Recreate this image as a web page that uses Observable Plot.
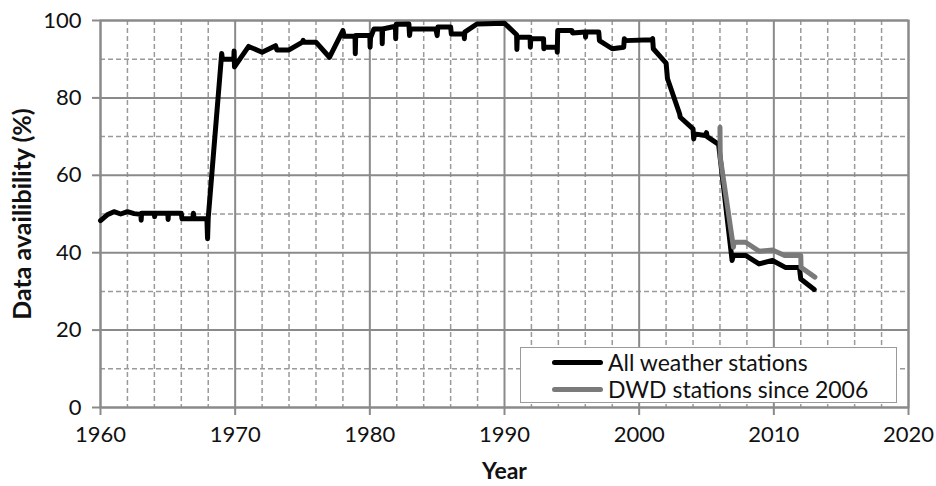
<!DOCTYPE html>
<html>
<head>
<meta charset="utf-8">
<script src="https://cdn.jsdelivr.net/npm/d3@7"></script>
<script src="https://cdn.jsdelivr.net/npm/@observablehq/plot@0.6"></script>
<style>
  html, body { margin: 0; padding: 0; background: #fff; }
  #wrap { position: relative; width: 936px; height: 486px; font-family: Lato, "Open Sans", sans-serif; }
  #legend { position: absolute; left: 520px; top: 347px; width: 375px; height: 54px; border: 1.5px solid #9a9a9a; background: #fff; }
  .row { position: absolute; left: 0; height: 27px; width: 100%; }
  .swatch { position: absolute; left: 31px; width: 51px; height: 5px; border-radius: 2.5px; }
  .lab { position: absolute; left: 87px; font-size: 23px; color: #111; white-space: nowrap; line-height: 1; }
</style>
</head>
<body>
<div id="wrap"></div>
<script>
// Series: All weather stations
const allYears = [
  1960.0, 1960.5, 1961.0, 1961.5, 1962.0, 1962.5, 1963.0, 1963.02, 1963.05, 1964.0,
  1964.02, 1964.05, 1965.0, 1965.02, 1965.05, 1966.0, 1966.05, 1966.85, 1966.9, 1966.95,
  1967.9, 1967.95, 1968.0, 1969.0, 1969.05, 1969.9, 1969.92, 1969.95, 1971.0, 1972.0,
  1973.0, 1973.1, 1974.0, 1975.0, 1975.05, 1975.1, 1976.0, 1977.0, 1978.0, 1978.1,
  1978.9, 1978.92, 1978.95, 1980.0, 1980.02, 1980.05, 1980.3, 1980.9, 1980.92, 1980.95,
  1981.9, 1981.92, 1981.95, 1982.9, 1982.95, 1983.0, 1984.9, 1985.0, 1985.05, 1986.0,
  1986.05, 1987.0, 1987.02, 1987.05, 1987.95, 1990.0, 1990.9, 1990.92, 1990.95, 1991.9,
  1991.92, 1991.95, 1992.9, 1992.92, 1992.95, 1993.9, 1993.92, 1993.95, 1995.0, 1995.05,
  1996.0, 1996.02, 1996.05, 1997.0, 1997.05, 1998.0, 1998.85, 1998.9, 1998.95, 2000.9,
  2001.0, 2001.05, 2002.0, 2002.1, 2003.0, 2003.05, 2004.0, 2004.05, 2004.1, 2004.9,
  2005.0, 2005.05, 2005.9, 2006.9, 2007.0, 2007.9, 2008.9, 2009.9, 2010.85, 2011.9,
  2012.0, 2013.0
];
const allValues = [
  48.3, 49.8, 50.6, 50.0, 50.6, 50.1, 49.9, 48.4, 50.2, 50.2,
  49.3, 50.2, 50.2, 48.6, 50.2, 50.2, 48.8, 48.8, 50.2, 48.8,
  48.8, 43.6, 49.0, 91.5, 90.0, 90.0, 92.1, 88.0, 93.3, 91.8,
  93.5, 92.4, 92.4, 94.4, 94.9, 94.4, 94.4, 90.5, 97.4, 95.9,
  96.0, 91.4, 96.1, 96.1, 93.1, 95.5, 97.8, 97.8, 94.0, 97.8,
  98.5, 95.3, 99.0, 99.1, 96.1, 97.8, 97.8, 96.1, 98.3, 98.3,
  96.5, 96.5, 95.3, 97.0, 99.1, 99.3, 96.3, 92.5, 95.7, 95.7,
  93.1, 95.3, 95.3, 92.7, 93.1, 93.1, 91.8, 97.4, 97.4, 96.8,
  97.0, 95.7, 97.0, 97.0, 94.8, 92.7, 93.1, 95.3, 94.8, 95.0,
  95.3, 92.7, 89.0, 85.0, 75.9, 75.0, 72.0, 69.4, 70.7, 70.3,
  71.0, 70.0, 68.0, 38.0, 39.3, 39.3, 37.1, 38.0, 36.2, 36.2,
  33.2, 30.5
];

// Series: DWD stations since 2006
const dwdYears  = [2006.0, 2006.02, 2007.0, 2007.05, 2007.9, 2008.9, 2009.9, 2010.8, 2012.0, 2012.02, 2013.05];
const dwdValues = [72.4, 64.7, 41.4, 42.7, 42.7, 40.4, 40.7, 39.3, 39.3, 36.2, 33.7];

// Axis ticks
const xMajorTicks = [1960, 1970, 1980, 1990, 2000, 2010, 2020];
const xMinorTicks = [1962, 1964, 1966, 1968, 1972, 1974, 1976, 1978, 1982, 1984, 1986, 1988,
                     1992, 1994, 1996, 1998, 2002, 2004, 2006, 2008, 2012, 2014, 2016, 2018];
const yMajorTicks = [0, 20, 40, 60, 80, 100];
const yMinorTicks = [10, 30, 50, 70, 90];

const seriesNames = ["All weather stations", "DWD stations since 2006"];
const seriesColors = ["#000000", "#7a7a7a"];
const xTitle = "Year";
const yTitle = "Data availibility (%)";

const allData = allYears.map((y, i) => ({year: y, value: allValues[i]}));
const dwdData = dwdYears.map((y, i) => ({year: y, value: dwdValues[i]}));

const chart = Plot.plot({
  width: 936,
  height: 486,
  marginLeft: 100,
  marginRight: 28,
  marginTop: 20,
  marginBottom: 79,
  style: {fontFamily: "Lato, 'Open Sans', sans-serif", fontSize: "22px", color: "#111", background: "#fff"},
  x: {domain: [1960, 2020]},
  y: {domain: [0, 100]},
  marks: [
    Plot.gridX(xMinorTicks, {stroke: "#9a9a9a", strokeOpacity: 1, strokeWidth: 1.5, strokeDasharray: "5,3"}),
    Plot.gridY(yMinorTicks, {stroke: "#9a9a9a", strokeOpacity: 1, strokeWidth: 1.5, strokeDasharray: "5,3"}),
    Plot.gridX(xMajorTicks, {stroke: "#8a8a8a", strokeOpacity: 1, strokeWidth: 2}),
    Plot.gridY(yMajorTicks, {stroke: "#8a8a8a", strokeOpacity: 1, strokeWidth: 2}),
    Plot.frame({stroke: "#8a8a8a", strokeWidth: 2}),
    Plot.axisX(xMajorTicks, {tickSize: 8, tickPadding: 11, tickFormat: d => String(d), fontSize: 22, stroke: "#8a8a8a", strokeWidth: 2, label: null}),
    Plot.axisY(yMajorTicks, {tickSize: 8, tickPadding: 11, tickFormat: d => String(d), fontSize: 22, stroke: "#8a8a8a", strokeWidth: 2, label: null}),
    Plot.line(allData, {x: "year", y: "value", stroke: seriesColors[0], strokeWidth: 5, strokeLinejoin: "round", strokeLinecap: "round"}),
    Plot.line(dwdData, {x: "year", y: "value", stroke: seriesColors[1], strokeWidth: 5, strokeLinejoin: "round", strokeLinecap: "round"}),
    Plot.text([xTitle], {frameAnchor: "bottom", dy: 64, fontWeight: "bold", fontSize: 23, lineAnchor: "middle", textAnchor: "middle", fill: "#111"}),
    Plot.text([yTitle], {frameAnchor: "left", dx: -78, rotate: -90, fontWeight: "bold", fontSize: 25, lineAnchor: "middle", textAnchor: "middle", fill: "#111"})
  ]
});

const wrap = document.getElementById("wrap");
wrap.appendChild(chart);

const legend = document.createElement("div");
legend.id = "legend";
seriesNames.forEach((name, i) => {
  const row = document.createElement("div");
  row.className = "row";
  row.style.top = (i * 27) + "px";
  const sw = document.createElement("div");
  sw.className = "swatch";
  sw.style.top = "12px";
  sw.style.background = seriesColors[i];
  const lab = document.createElement("div");
  lab.className = "lab";
  lab.style.top = "3px";
  lab.textContent = name;
  row.appendChild(sw);
  row.appendChild(lab);
  legend.appendChild(row);
});
wrap.appendChild(legend);
</script>
</body>
</html>
